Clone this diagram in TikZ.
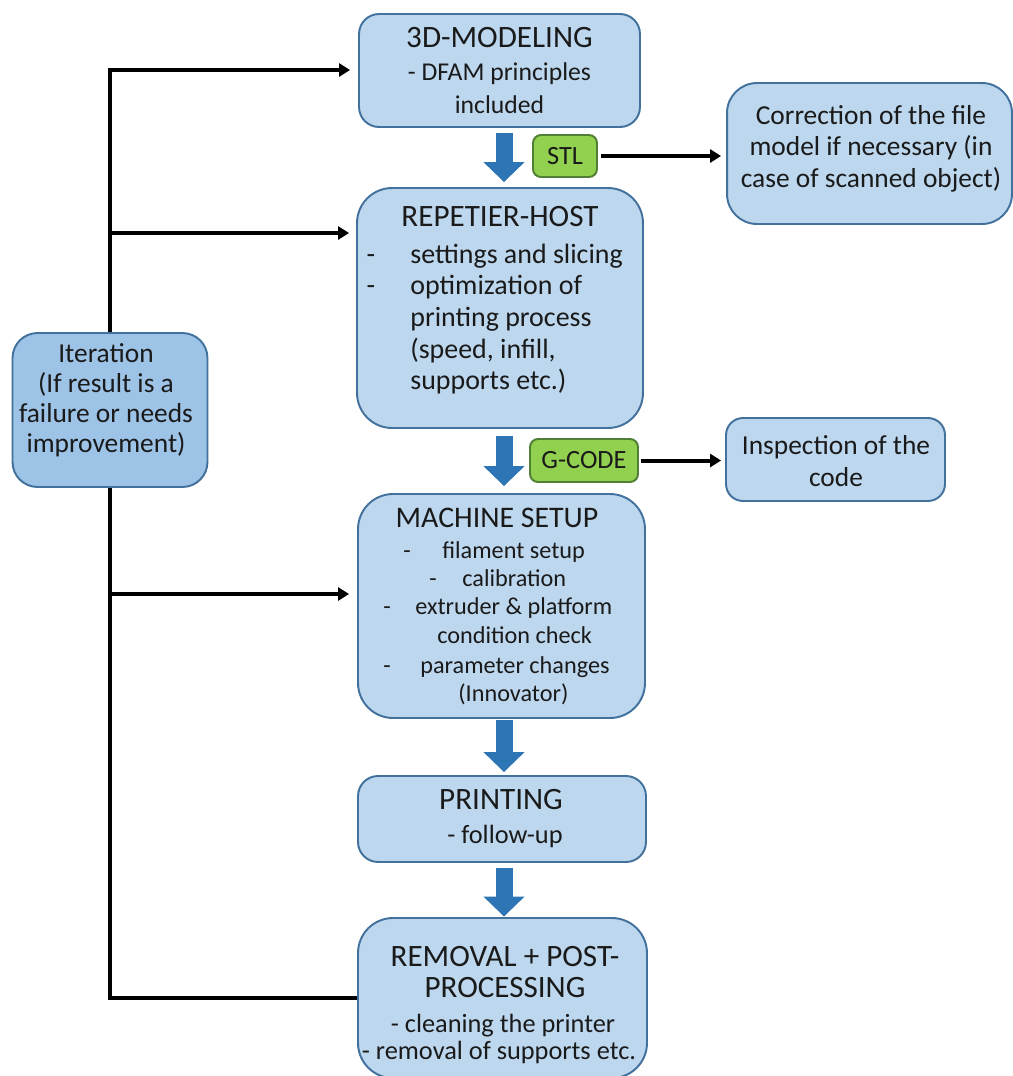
\documentclass[tikz,border=0pt]{standalone}
\usepackage{fontspec}
\setmainfont{Carlito}
\usetikzlibrary{arrows.meta}

\definecolor{boxfill}{HTML}{BDD7EE}
\definecolor{iterfill}{HTML}{9DC3E6}
\definecolor{boxline}{HTML}{41719C}
\definecolor{tagfill}{HTML}{92D050}
\definecolor{tagline}{HTML}{507E32}
\definecolor{flowblue}{HTML}{2E75B6}
\definecolor{ink}{HTML}{1A1A1A}

\newcommand\fHead{\fontsize{17.7pt}{18.5pt}\selectfont}
\newcommand\fMain{\fontsize{15.9pt}{18.5pt}\selectfont}
\newcommand\fSub{\fontsize{14.6pt}{18.5pt}\selectfont}
\newcommand\fSmall{\fontsize{13.8pt}{16pt}\selectfont}
\newcommand\fRem{\fontsize{15pt}{16pt}\selectfont}
\newcommand\fIter{\fontsize{15.6pt}{17.1pt}\selectfont}
\newcommand\fSide{\fontsize{15.6pt}{17.9pt}\selectfont}
\newcommand\fTag{\fontsize{15pt}{16pt}\selectfont}

\begin{document}
\begin{tikzpicture}[x=0.02cm, y=-0.02cm,
  box/.style={draw=boxline, fill=boxfill, line width=1.1pt, inner sep=0pt},
  tag/.style={draw=tagline, fill=tagfill, line width=1.1pt, inner sep=0pt,
    rounded corners=0.16cm, text=ink, font=\fTag},
  txt/.style={inner sep=0pt, text=ink, font=\fMain, align=center},
  ln/.style={txt, text height=11.1pt, text depth=3.2pt},
  head/.style={txt, font=\fHead, text height=12.4pt, text depth=1.8pt},
  small/.style={ln, font=\fSmall, text height=9.8pt, text depth=2.8pt},
  flow/.style={draw=flowblue, line width=0.34cm,
    -{Triangle[width=0.8cm, length=0.4cm]}},
  link/.style={draw=black, line width=0.08cm,
    -{Triangle[width=0.26cm, length=0.22cm]}},
  loop/.style={draw=black, line width=0.08cm, line join=miter}
]
\useasboundingbox (0,0) rectangle (1013,1076);

% main process column
\node[box, rounded corners=0.4cm, minimum width=5.62cm, minimum height=2.26cm,
  txt, font=\fSub] (m3d) at (499.5,70.5)
  {{\fHead 3D-MODELING}\\- DFAM principles\\included};
\node[box, rounded corners=0.7cm, minimum width=5.72cm, minimum height=4.8cm]
  (rep) at (500,308) {};
\node[box, rounded corners=0.7cm, minimum width=5.74cm, minimum height=4.48cm]
  (mach) at (501.5,606) {};
\node[box, rounded corners=0.4cm, minimum width=5.76cm, minimum height=1.72cm]
  (prn) at (502,819) {};
\node[box, rounded corners=0.7cm, minimum width=5.78cm, minimum height=3.2cm]
  (rem) at (502.5,998) {};

% side boxes
\node[box, fill=iterfill, rounded corners=0.5cm, minimum width=3.9cm,
  minimum height=3.08cm] (iter) at (110,410) {};
\node[box, rounded corners=0.6cm, minimum width=5.7cm, minimum height=2.82cm]
  (corr) at (869.5,153.5) {};
\node[box, rounded corners=0.34cm, minimum width=4.38cm, minimum height=1.66cm]
  (insp) at (835.5,459.5) {};

% file format tags
\node[tag, minimum width=1.28cm, minimum height=0.84cm] (stl) at (565,156) {STL};
\node[tag, minimum width=2.16cm, minimum height=0.86cm] (gcode) at (584,460.5) {G-CODE};

% REPETIER-HOST contents
\node[head] (rept) at (500,217) {REPETIER-HOST};
\node[ln] (repd1) at (371,257) {-};
\node[ln, anchor=west] (rep1) at (410,257) {settings and slicing};
\node[ln] (repd2) at (371,288) {-};
\node[ln, anchor=west] (rep2) at (410,288) {optimization of};
\node[ln, anchor=west] (rep3) at (410,320) {printing process};
\node[ln, anchor=west] (rep4) at (410,352) {(speed, infill,};
\node[ln, anchor=west] (rep5) at (410,383) {supports etc.)};

% MACHINE SETUP contents
\node[head, font=\fontsize{17pt}{18pt}\selectfont] (macht) at (497,518) {MACHINE SETUP};
\node[small] (machd1) at (407,552) {-};
\node[small, anchor=west] (mach1) at (442,552) {filament setup};
\node[small] (machd2) at (433,580) {-};
\node[small, anchor=west] (mach2) at (462,580) {calibration};
\node[small] (machd3) at (387,608) {-};
\node[small, anchor=west] (mach3) at (415,608) {extruder \& platform};
\node[small, anchor=west] (mach4) at (437,637) {condition check};
\node[small] (machd5) at (387,667) {-};
\node[small, anchor=west] (mach5) at (420,667) {parameter changes};
\node[small, anchor=west] (mach6) at (458,695) {(Innovator)};

% PRINTING contents
\node[head] (prnt) at (501,800) {PRINTING};
\node[ln, font=\fRem] (prn1) at (505,837) {- follow-up};

% REMOVAL contents
\node[txt, font=\fontsize{17.7pt}{18pt}\selectfont] (remt) at (505,972)
  {REMOVAL + POST-\\PROCESSING};
\node[ln, font=\fRem] (rem1) at (503,1026) {- cleaning the printer};
\node[ln, font=\fRem] (rem2) at (499,1053) {- removal of supports etc.};

% side box texts
\node[txt, font=\fIter] (itert) at (106,400)
  {Iteration\\(If result is a\\failure or needs\\improvement)};
\node[txt, font=\fSide] (corrt) at (871,148.5)
  {Correction of the file\\model if necessary (in\\case of scanned object)};
\node[txt, font=\fSide] (inspt) at (836,461) {Inspection of the\\code};

% block arrows between steps
\coordinate (ax) at (504,0);
\draw[flow, shorten <=0.1cm, shorten >=0.1cm] (m3d.south -| ax) -- (rep.north -| ax);
\draw[flow, shorten <=0.14cm, shorten >=0.14cm] (rep.south -| ax) -- (mach.north -| ax);
\draw[flow, shorten <=0.03cm, shorten >=0.06cm] (mach.south -| ax) -- (prn.north -| ax);
\draw[flow, shorten <=0.1cm, shorten >=0.01cm] (prn.south -| ax) -- (rem.north -| ax);

% outputs to side checks
\draw[link, shorten <=0.06cm, shorten >=0.1cm] (stl.east) -- (corr.west |- stl.east);
\draw[link, shorten <=0.04cm, shorten >=0.08cm] (gcode.east) -- (insp.west |- gcode.east);

% iteration loop
\coordinate (j1) at (110,70);
\coordinate (j2) at (110,233);
\coordinate (j3) at (110,594);
\coordinate (j4) at (110,998);
\draw[loop, link, shorten >=0.16cm] (iter.north) -- (j1) -- (j1 -| m3d.west);
\draw[link, shorten >=0.14cm] (j2) -- (j2 -| rep.west);
\draw[link, shorten >=0.16cm] (j3) -- (j3 -| mach.west);
\draw[loop] (iter.south) -- (j4) -- (j4 -| rem.west);
\end{tikzpicture}
\end{document}
